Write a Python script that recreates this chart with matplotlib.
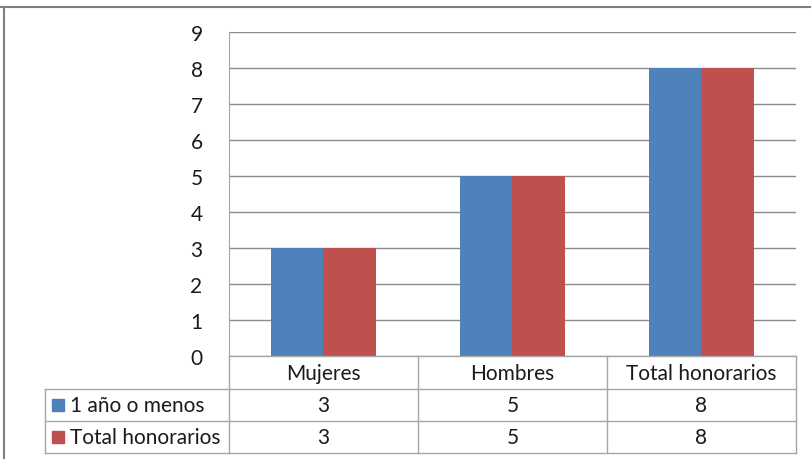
import matplotlib
matplotlib.use("Agg")
import matplotlib.pyplot as plt
from matplotlib.lines import Line2D
from matplotlib.patches import Rectangle
import numpy as np

categories = ["Mujeres", "Hombres", "Total honorarios"]
series_names = ["1 año o menos", "Total honorarios"]
series_1 = [3, 5, 8]
series_2 = [3, 5, 8]
colors = ["#4f81bd", "#c0504d"]
yticks = list(range(0, 10))

W, H = 812, 460
plt.rcParams['font.family'] = ['Lato', 'DejaVu Sans']
FS = 15
TC = "#1a1a1a"
fig = plt.figure(figsize=(W / 100, H / 100), dpi=100)

def fx(px):
    return px / W

def fy(py):
    return 1 - py / H

x0, x1, ytop, ybot = 229, 796, 33, 357
ax = fig.add_axes([fx(x0), fy(ybot), fx(x1) - fx(x0), fy(ytop) - fy(ybot)])
x = np.arange(len(categories))
bw = 0.28
ax.bar(x - bw / 2, series_1, bw, color=colors[0], zorder=3)
ax.bar(x + bw / 2, series_2, bw, color=colors[1], zorder=3)
ax.set_xlim(-0.5, len(categories) - 0.5)
ax.set_ylim(0, 9)
ax.set_yticks(yticks)
ax.set_yticklabels([str(t) for t in yticks], fontsize=FS, color=TC)
ax.tick_params(axis='y', length=0, pad=19)
ax.set_xticks([])
ax.grid(axis='y', color="#8c8c8c", linewidth=1.0, zorder=0)
for s in ["top", "right", "bottom"]:
    ax.spines[s].set_visible(False)
ax.spines["left"].set_color("#a6a6a6")

# table
gc = "#a6a6a6"
rows_y = [357, 390, 422, 454]
col_x = [229, 418, 607, 796]
tleft = 45
def hline(xa, xb, y):
    fig.add_artist(Line2D([fx(xa), fx(xb)], [fy(y), fy(y)], color=gc, lw=1.0))
def vline(xp, ya, yb):
    fig.add_artist(Line2D([fx(xp), fx(xp)], [fy(ya), fy(yb)], color=gc, lw=1.0))

hline(x0, x1, rows_y[0])
for y in rows_y[1:]:
    hline(tleft, x1, y)
for xp in col_x:
    vline(xp, rows_y[0], rows_y[3])
vline(tleft, rows_y[1], rows_y[3])

for i, c in enumerate(categories):
    cx = (col_x[i] + col_x[i + 1]) / 2
    fig.text(fx(cx), fy((rows_y[0] + rows_y[1]) / 2), c, ha='center', va='center',
             fontsize=FS, color=TC)
for r, (name, vals) in enumerate(zip(series_names, [series_1, series_2])):
    cy = (rows_y[r + 1] + rows_y[r + 2]) / 2
    fig.add_artist(Rectangle((fx(52), fy(cy + 6)), fx(12), 12 / H, color=colors[r],
                             transform=fig.transFigure))
    fig.text(fx(70), fy(cy), name, ha='left', va='center', fontsize=FS, color=TC)
    for i, v in enumerate(vals):
        cx = (col_x[i] + col_x[i + 1]) / 2
        fig.text(fx(cx), fy(cy), str(v), ha='center', va='center', fontsize=FS,
                 color=TC)

# outer chart border
fig.add_artist(Line2D([0, 1], [fy(8), fy(8)], color="#808080", lw=1.5))
fig.add_artist(Line2D([fx(4), fx(4)], [fy(8), 0], color="#808080", lw=1.5))

fig.savefig("out.png", dpi=100)
